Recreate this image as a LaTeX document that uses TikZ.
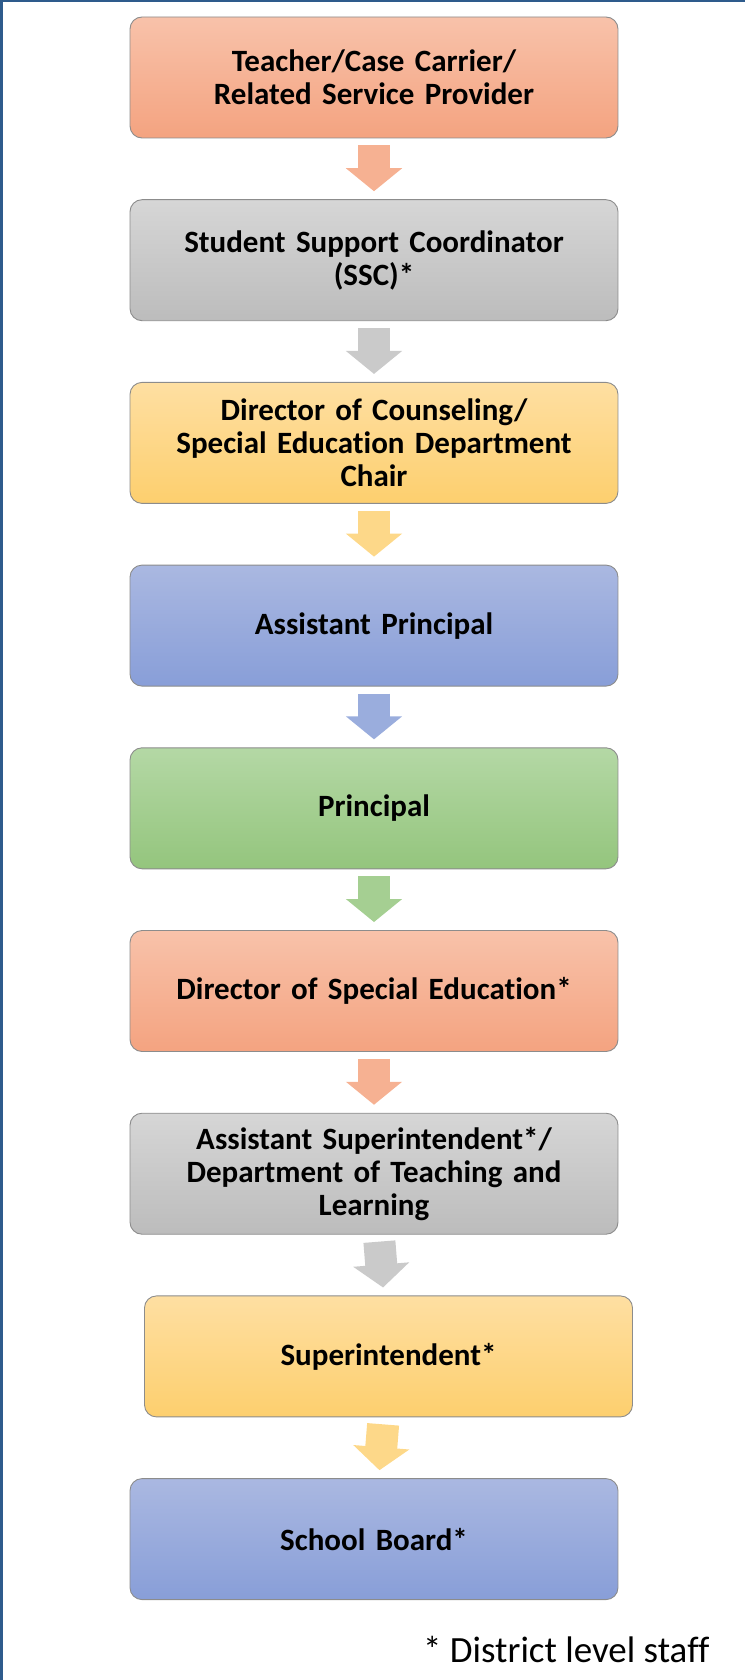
\documentclass[tikz,border=0pt]{standalone}
\usepackage{fontspec}
\setmainfont{Carlito}[Ligatures=NoCommon]
\usetikzlibrary{arrows.meta,positioning}

\definecolor{frameblue}{HTML}{2E5B8C}
\definecolor{boxline}{HTML}{8C8C8C}
\definecolor{orangeT}{HTML}{F8C2AA}
\definecolor{orangeB}{HTML}{F4A380}
\definecolor{orangeA}{HTML}{F6B192}
\definecolor{grayT}{HTML}{D6D6D6}
\definecolor{grayB}{HTML}{BCBCBC}
\definecolor{grayA}{HTML}{CACACA}
\definecolor{yellowT}{HTML}{FEDFA2}
\definecolor{yellowB}{HTML}{FDCF6E}
\definecolor{yellowA}{HTML}{FDD889}
\definecolor{blueT}{HTML}{AAB8E1}
\definecolor{blueB}{HTML}{889ED8}
\definecolor{blueA}{HTML}{9AADDD}
\definecolor{greenT}{HTML}{B4D8A5}
\definecolor{greenB}{HTML}{94C57D}
\definecolor{greenA}{HTML}{A5CF92}

\tikzset{
  box/.style={draw=boxline, line width=0.9pt, rounded corners=12pt,
    minimum width=488pt, minimum height=121pt, text width=470pt,
    align=center, font=\bfseries\fontsize{31}{33}\selectfont},
  orangebox/.style={box, top color=orangeT, bottom color=orangeB},
  graybox/.style={box, top color=grayT, bottom color=grayB},
  yellowbox/.style={box, top color=yellowT, bottom color=yellowB},
  bluebox/.style={box, top color=blueT, bottom color=blueB},
  greenbox/.style={box, top color=greenT, bottom color=greenB},
  flow/.style={line width=32pt, -{Triangle[width=55pt,length=23pt]},
    shorten <=7pt, shorten >=8pt},
}

\begin{document}
\begin{tikzpicture}[x=1pt,y=1pt]
    \useasboundingbox (0,0) rectangle (745,-1680);
    % frame
    \draw[frameblue, line width=3pt] (1.5,-1680) -- (1.5,-1) -- (745,-1);

    % the boxes
    \node[orangebox] (teacher) at (374,-77.5) {Teacher/Case Carrier/\\Related Service Provider};
    \node[graybox] (ssc) at (374,-260.2) {Student Support Coordinator\\(SSC)*};
    \node[yellowbox] (counsel) at (374,-442.9) {Director of Counseling/\\Special Education Department\\Chair};
    \node[bluebox] (asstprin) at (374,-625.6) {Assistant Principal};
    \node[greenbox] (prin) at (374,-808.3) {Principal};
    \node[orangebox] (dirsped) at (374,-991) {Director of Special Education*};
    \node[graybox] (asstsup) at (374,-1173.7) {Assistant Superintendent*/\\Department of Teaching and\\Learning};
    \node[yellowbox] (sup) at (388.5,-1356.4) {Superintendent*};
    \node[bluebox] (board) at (374,-1539.1) {School Board*};

    % the arrows
    \draw[flow, orangeA] (teacher) -- (ssc);
    \draw[flow, grayA] (ssc) -- (counsel);
    \draw[flow, yellowA] (counsel) -- (asstprin);
    \draw[flow, blueA] (asstprin) -- (prin);
    \draw[flow, greenA] (prin) -- (dirsped);
    \draw[flow, orangeA] (dirsped) -- (asstsup);
    \draw[flow, grayA] (asstsup) -- (sup);
    \draw[flow, yellowA] (sup) -- (board);

    \node[anchor=east, font=\fontsize{37}{40}\selectfont] (note) at (713,-1649) {* District level staff};
\end{tikzpicture}
\end{document}
